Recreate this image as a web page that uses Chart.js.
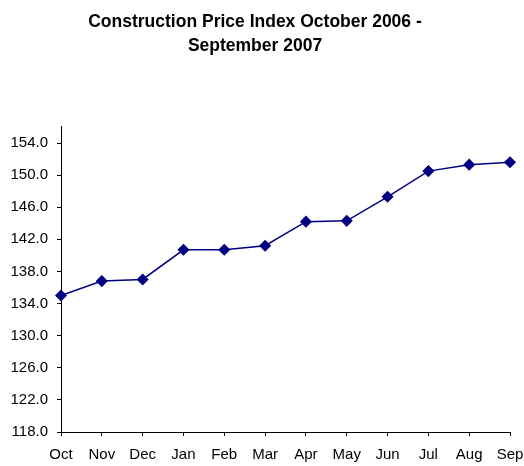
<!DOCTYPE html>
<html>
<head>
<meta charset="utf-8">
<script src="https://cdn.jsdelivr.net/npm/chart.js@4/dist/chart.umd.min.js"></script>
<style>
  html, body { margin: 0; padding: 0; background: #fff; }
  #wrap { width: 524px; height: 466px; }
</style>
</head>
<body>
<div id="wrap"><canvas id="cpiChart"></canvas></div>
<script>
"use strict";

// Construction price index, Oct 2006 - Sep 2007
const months = ['Oct', 'Nov', 'Dec', 'Jan', 'Feb', 'Mar', 'Apr', 'May', 'Jun', 'Jul', 'Aug', 'Sep'];
const indexValues = [135.0, 136.8, 137.0, 140.7, 140.7, 141.2, 144.2, 144.3, 147.3, 150.5, 151.3, 151.6];
const yTickValues = [118, 122, 126, 130, 134, 138, 142, 146, 150, 154];
const titleLines = ['Construction Price Index October 2006 -', 'September 2007'];

const navy = '#000080';
const fontFamily = 'Arial, "Liberation Sans", sans-serif';

new Chart(document.getElementById('cpiChart'), {
    type: 'line',
    data: {
        labels: months,
        datasets: [{
            data: indexValues,
            borderColor: navy,
            backgroundColor: navy,
            borderWidth: 1.5,
            pointStyle: 'rectRot',
            pointRadius: 5,
            pointHoverRadius: 5,
            tension: 0
        }]
    },
    options: {
        responsive: true,
        maintainAspectRatio: false,
        animation: false,
        layout: { padding: { left: 0, right: 14, top: 0, bottom: 0 } },
        plugins: {
            legend: { display: false },
            tooltip: { enabled: false },
            title: {
                display: true,
                text: titleLines,
                color: '#000',
                font: { family: fontFamily, size: 17.5, weight: 'bold', lineHeight: 1.37 },
                padding: { top: 10, bottom: 69 }
            }
        },
        scales: {
            x: {
                offset: false,
                grid: { drawOnChartArea: false, color: '#000', tickLength: 4 },
                border: { color: '#000', width: 1 },
                ticks: {
                    color: '#000',
                    font: { family: fontFamily, size: 15 },
                    padding: 10,
                    maxRotation: 0,
                    autoSkip: false
                },
                afterFit: function(axis) {
                    axis.height = 34;
                    // let the last label run off the edge like the original
                    axis.paddingLeft = 0;
                    axis.paddingRight = 0;
                }
            },
            y: {
                min: 118,
                max: 156,
                grid: { drawOnChartArea: false, color: '#000', tickLength: 4 },
                border: { color: '#000', width: 1 },
                ticks: {
                    color: '#000',
                    font: { family: fontFamily, size: 15 },
                    padding: 9,
                    callback: function(v) { return Number(v).toFixed(1); }
                },
                // ticks start at the axis minimum, not at a multiple of 4
                afterBuildTicks: function(axis) {
                    axis.ticks = yTickValues.map(v => ({ value: v }));
                },
                afterFit: function(axis) { axis.width = 61; }
            }
        }
    }
});
</script>
</body>
</html>
